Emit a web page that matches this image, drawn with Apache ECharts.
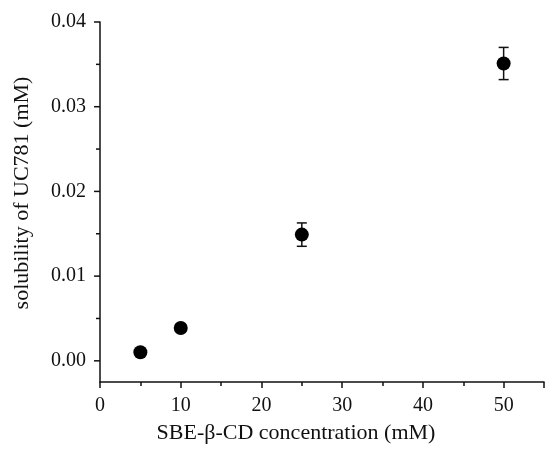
<!DOCTYPE html>
<html><head><meta charset="utf-8">
<script src="https://cdn.jsdelivr.net/npm/echarts@6/dist/echarts.min.js"></script>
<style>html,body{margin:0;padding:0;background:#fff}#c{width:547px;height:449px}</style>
</head><body><div id="c"></div>
<script>
const concentrations = [5, 10, 25, 50];
const solubility = [0.00102, 0.00388, 0.0149, 0.0351];
const errors = [0, 0, 0.00138, 0.0019];
const xTicks = [0, 10, 20, 30, 40, 50];
const yTicks = [0.00, 0.01, 0.02, 0.03, 0.04];

const chart = echarts.init(document.getElementById('c'));
const font = '"Liberation Serif", "Times New Roman", serif';
const pts = concentrations.map((x, i) => [x, solubility[i]]);
const errData = concentrations.map((x, i) => [x, solubility[i] - errors[i], solubility[i] + errors[i]]);
chart.setOption({
  animation: false,
  backgroundColor: '#fff',
  grid: { left: 100, right: 1, top: 22, bottom: 66 },
  xAxis: {
    type: 'value', min: 0, max: 55, interval: 10,
    name: 'SBE-β-CD concentration (mM)', nameLocation: 'middle', nameGap: 40,
    nameTextStyle: { fontFamily: font, fontSize: 22, color: '#111', padding: [0, 52, 0, 0] },
    axisLine: { show: true, onZero: false, lineStyle: { color: '#111', width: 1.5 } },
    axisTick: { show: true, inside: false, length: 6, lineStyle: { color: '#111', width: 1.5 } },
    minorTick: { show: true, splitNumber: 2, length: 4, lineStyle: { color: '#111', width: 1.5 } },
    axisLabel: { fontFamily: font, fontSize: 20, color: '#111', margin: 14,
      formatter: v => xTicks.includes(v) ? String(v) : '' },
    splitLine: { show: false }
  },
  yAxis: {
    type: 'value', min: -0.0025, max: 0.04,
    name: 'solubility of UC781 (mM)', nameLocation: 'middle', nameGap: 67,
    nameTextStyle: { fontFamily: font, fontSize: 22, color: '#111', padding: [0, 0, 0, 18] },
    axisLine: { show: true, onZero: false, lineStyle: { color: '#111', width: 1.5 } },
    axisTick: { show: false },
    axisLabel: { show: false },
    splitLine: { show: false }
  },
  series: [
    {
      type: 'custom',
      silent: true,
      data: yTicks.map(v => [v]).concat([[0.005],[0.015],[0.025],[0.035]]),
      renderItem: (params, api) => {
        const v = api.value(0);
        const p = api.coord([0, v]);
        const x0 = params.coordSys.x;
        const major = yTicks.some(t => Math.abs(t - v) < 1e-9);
        const children = [{
          type: 'line', shape: { x1: x0 - (major ? 6 : 4), y1: p[1], x2: x0, y2: p[1] },
          style: { stroke: '#111', lineWidth: 1.5 }
        }];
        if (major) children.push({
          type: 'text', x: x0 - 14, y: p[1],
          style: { text: v.toFixed(2), fontFamily: font, fontSize: 20, fill: '#111', align: 'right', verticalAlign: 'middle' }
        });
        return { type: 'group', children };
      },
      encode: { y: 0 }
    },
    {
      type: 'custom',
      data: errData,
      renderItem: (params, api) => {
        const x = api.value(0), lo = api.value(1), hi = api.value(2);
        if (hi - lo <= 0) return null;
        const a = api.coord([x, hi]), b = api.coord([x, lo]);
        const w = 5;
        const st = { stroke: '#111', lineWidth: 1.5 };
        return { type: 'group', children: [
          { type: 'line', shape: { x1: a[0], y1: a[1], x2: b[0], y2: b[1] }, style: st },
          { type: 'line', shape: { x1: a[0]-w, y1: a[1], x2: a[0]+w, y2: a[1] }, style: st },
          { type: 'line', shape: { x1: b[0]-w, y1: b[1], x2: b[0]+w, y2: b[1] }, style: st }
        ]};
      },
      encode: { x: 0, y: [1, 2] }
    },
    {
      type: 'scatter', data: pts, symbol: 'circle', symbolSize: 14,
      itemStyle: { color: '#000', opacity: 1 }
    }
  ]
});
</script></body></html>
